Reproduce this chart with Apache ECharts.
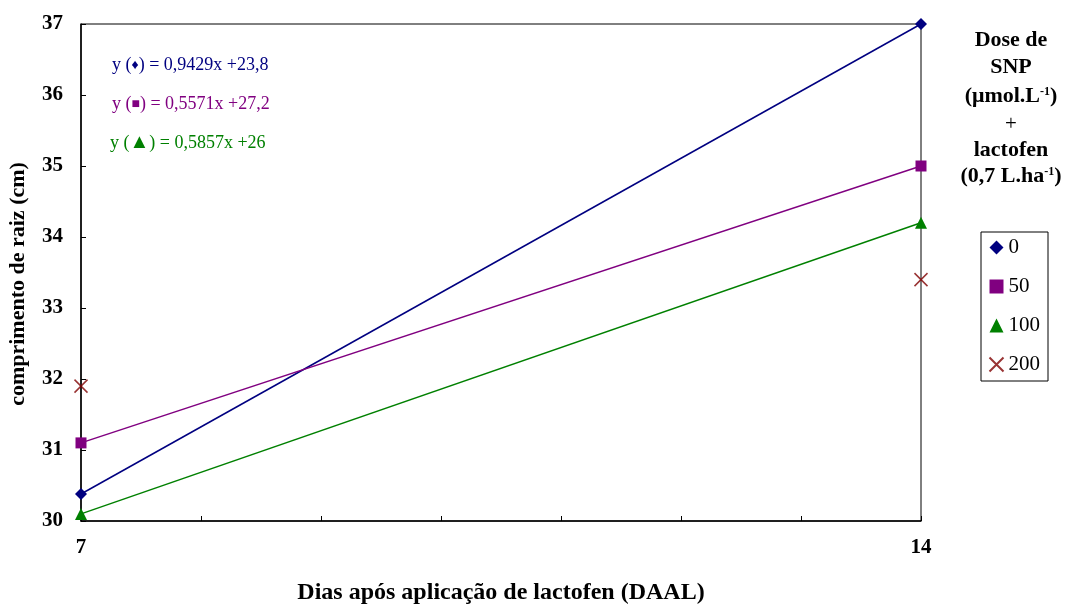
<!DOCTYPE html>
<html><head><meta charset="utf-8">
<script src="https://cdn.jsdelivr.net/npm/echarts@6/dist/echarts.min.js"></script>
<style>html,body{margin:0;padding:0;background:#fff}#c{width:1069px;height:606px}</style>
</head><body><div id="c"></div>
<script>
const days = [7, 14];
const doses = ['0', '50', '100', '200'];
const dose0 = [30.38, 37.0];
const dose50 = [31.1, 35.0];
const dose100 = [30.1, 34.2];
const dose200 = [31.9, 33.4];
const yTicks = [30, 31, 32, 33, 34, 35, 36, 37];
const equations = ['y (♦) = 0,9429x +23,8', 'y (■) = 0,5571x +27,2', 'y (▲) = 0,5857x +26'];

const F = '"Liberation Serif", "Times New Roman", serif';
const colors = ['#000080', '#800080', '#008000', '#800000'];
const pair = arr => days.map((d, i) => [d, arr[i]]);
const cross = 'path://M0,0L10,10M10,0L0,10';

const chart = echarts.init(document.getElementById('c'));
function eqText(s, i) {
  const m = s.match(/^y \((.)\)(.*)$/);
  return {
    type: 'text', x: [112, 112, 110][i], y: [65, 104, 143][i],
    style: {
      text: '{a|y (}{s' + i + '|' + m[1] + '}{a|)' + m[2] + '}',
      verticalAlign: 'middle',
      rich: {
        a: { fontFamily: F, fontSize: 18, fill: colors[i] },
        s0: { fontFamily: F, fontSize: 14, fill: colors[0] },
        s1: { fontFamily: F, fontSize: 14, fill: colors[1] },
        s2: { fontFamily: F, fontSize: 20, fill: colors[2] }
      }
    }
  };
}
const titleLines = [
  '{b|Dose de}', '{b|SNP}', '{b|(μmol.L}{s|-1}{b|)}', '{p|+}', '{b|lactofen}', '{b|(0,7 L.ha}{s|-1}{b|)}'
];
const titleY = [40, 67, 96, 124, 150, 176];
const titleRich = {
  b: { fontFamily: F, fontSize: 22, fontWeight: 'bold', fill: '#000' },
  s: { fontFamily: F, fontSize: 12, fontWeight: 'bold', fill: '#000', padding: [0, 0, 9, 0] },
  p: { fontFamily: F, fontSize: 21, fill: '#000' }
};
chart.setOption({
  animation: false,
  grid: { left: 81, right: 148, top: 24, bottom: 85, outerBoundsMode: 'none', containLabel: false,
    show: true, borderColor: '#000', borderWidth: 1 },
  xAxis: {
    type: 'value', min: 7, max: 14, interval: 1,
    name: 'Dias após aplicação de lactofen (DAAL)', nameLocation: 'middle', nameGap: 60,
    nameTextStyle: { fontFamily: F, fontSize: 24, fontWeight: 'bold', color: '#000' },
    axisLine: { lineStyle: { color: '#000', width: 1.5 } },
    axisTick: { inside: true, length: 5, lineStyle: { color: '#000' } },
    axisLabel: { fontFamily: F, fontSize: 21, fontWeight: 'bold', color: '#000', margin: 16,
      formatter: v => (v === days[0] || v === days[1]) ? String(v) : '' },
    splitLine: { show: false }
  },
  yAxis: {
    type: 'value', min: yTicks[0], max: yTicks[yTicks.length - 1], interval: 1,
    axisLine: { show: true, lineStyle: { color: '#000', width: 1.5 } },
    axisTick: { show: true, inside: true, length: 5, lineStyle: { color: '#000' } },
    axisLabel: { fontFamily: F, fontSize: 21, fontWeight: 'bold', color: '#000', margin: 18 },
    splitLine: { show: false }
  },
  legend: {
    orient: 'vertical', left: 981, top: 232, width: 68,
    padding: [5, 8, 6, 6], itemGap: 18, itemWidth: 14, itemHeight: 14,
    borderColor: '#000', borderWidth: 1,
    textStyle: { fontFamily: F, fontSize: 21, color: '#000' },
    data: doses.map((d, i) => ({ name: d, icon: ['diamond', 'rect', 'triangle', cross][i] }))
  },
  graphic: titleLines.map((t, i) => ({
    type: 'text', x: 1011, y: titleY[i],
    style: { text: t, align: 'center', verticalAlign: 'middle', rich: titleRich }
  })).concat([{
    type: 'text', x: 18, y: 284, rotation: Math.PI / 2,
    style: { text: 'comprimento de raiz (cm)', align: 'center', verticalAlign: 'middle',
      fontFamily: F, fontSize: 22, fontWeight: 'bold', fill: '#000' }
  }]).concat(equations.map(eqText)),
  series: [
    { name: doses[0], type: 'line', data: pair(dose0), symbol: 'diamond', symbolSize: 12,
      lineStyle: { color: colors[0], width: 1.5 }, itemStyle: { color: colors[0] } },
    { name: doses[1], type: 'line', data: pair(dose50), symbol: 'rect', symbolSize: 11,
      lineStyle: { color: colors[1], width: 1.5 }, itemStyle: { color: colors[1] } },
    { name: doses[2], type: 'line', data: pair(dose100), symbol: 'triangle', symbolSize: 12,
      lineStyle: { color: colors[2], width: 1.5 }, itemStyle: { color: colors[2] } },
    { name: doses[3], type: 'scatter', data: pair(dose200), symbol: cross, symbolSize: 13,
      itemStyle: { color: 'none', borderColor: colors[3], borderWidth: 1.5 } }
  ]
});
</script></body></html>
